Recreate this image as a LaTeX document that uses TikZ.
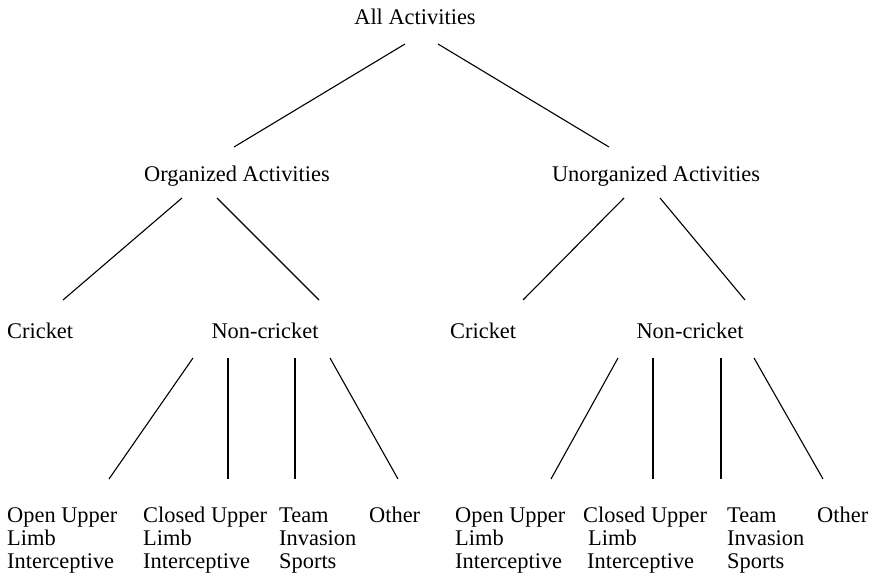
\documentclass[tikz,border=0pt]{standalone}
\usepackage{fontspec}
\setmainfont{Liberation Serif}
\newcommand{\stackthree}[3]{\vtop{\baselineskip=23pt\hbox{#1}\hbox{#2}\hbox{#3}}}
\begin{document}
\begin{tikzpicture}[x=1pt,y=-1pt,
  lbl/.style={inner sep=0pt,font=\fontsize{22.4}{23}\selectfont},
  conn/.style={line width=1.1pt,black}]
\useasboundingbox (0,0) rectangle (873,578);
% text nodes
\node[lbl,anchor=base] (all) at (415,25) {All Activities};
\node[lbl,anchor=base] (org) at (237,181) {Organized Activities};
\node[lbl,anchor=base] (unorg) at (656,181) {Unorganized Activities};
\node[lbl,anchor=base west] (cr1) at (7,338) {Cricket};
\node[lbl,anchor=base] (nc1) at (265,338) {Non-cricket};
\node[lbl,anchor=base west] (cr2) at (450,338) {Cricket};
\node[lbl,anchor=base] (nc2) at (690,338) {Non-cricket};
\node[lbl,anchor=base west] (ou1) at (7,522) {\stackthree{Open Upper}{Limb}{Interceptive}};
\node[lbl,anchor=base west] (cu1) at (143,522) {\stackthree{Closed Upper}{Limb}{Interceptive}};
\node[lbl,anchor=base west] (ti1) at (279,522) {\stackthree{Team}{Invasion}{Sports}};
\node[lbl,anchor=base west] (ot1) at (369,522) {Other};
\node[lbl,anchor=base west] (ou2) at (455,522) {\stackthree{Open Upper}{Limb}{Interceptive}};
\node[lbl,anchor=base west] (cu2) at (583,522) {\stackthree{Closed Upper}{\hspace*{5pt}Limb}{\hspace*{4pt}Interceptive}};
\node[lbl,anchor=base west] (ti2) at (727,522) {\stackthree{Team}{Invasion}{Sports}};
\node[lbl,anchor=base west] (ot2) at (817,522) {Other};
% connector end points
\coordinate (all-l) at (405,44);
\coordinate (all-r) at (438,44);
\coordinate (org-t) at (234,147);
\coordinate (unorg-t) at (609,147);
\coordinate (org-l) at (182,198);
\coordinate (org-r) at (217,198);
\coordinate (unorg-l) at (624,198);
\coordinate (unorg-r) at (660,198);
\coordinate (cr1-t) at (63,300);
\coordinate (nc1-t) at (319,300);
\coordinate (cr2-t) at (523,300);
\coordinate (nc2-t) at (745,300);
\coordinate (nc1-a) at (193,358);
\coordinate (nc1-b) at (228,358);
\coordinate (nc1-c) at (295,358);
\coordinate (nc1-d) at (330,358);
\coordinate (nc2-a) at (618,358);
\coordinate (nc2-b) at (653,358);
\coordinate (nc2-c) at (721,358);
\coordinate (nc2-d) at (754,358);
\coordinate (ou1-t) at (109,479);
\coordinate (cu1-t) at (228,479);
\coordinate (ti1-t) at (295,479);
\coordinate (ot1-t) at (398,479);
\coordinate (ou2-t) at (551,479);
\coordinate (cu2-t) at (653,479);
\coordinate (ti2-t) at (721,479);
\coordinate (ot2-t) at (823,479);
% connectors
\draw[conn] (all-l) -- (org-t);
\draw[conn] (all-r) -- (unorg-t);
\draw[conn] (org-l) -- (cr1-t);
\draw[conn] (org-r) -- (nc1-t);
\draw[conn] (unorg-l) -- (cr2-t);
\draw[conn] (unorg-r) -- (nc2-t);
\draw[conn] (nc1-a) -- (ou1-t);
\draw[conn] (nc1-b) -- (cu1-t);
\draw[conn] (nc1-c) -- (ti1-t);
\draw[conn] (nc1-d) -- (ot1-t);
\draw[conn] (nc2-a) -- (ou2-t);
\draw[conn] (nc2-b) -- (cu2-t);
\draw[conn] (nc2-c) -- (ti2-t);
\draw[conn] (nc2-d) -- (ot2-t);
\end{tikzpicture}
\end{document}
